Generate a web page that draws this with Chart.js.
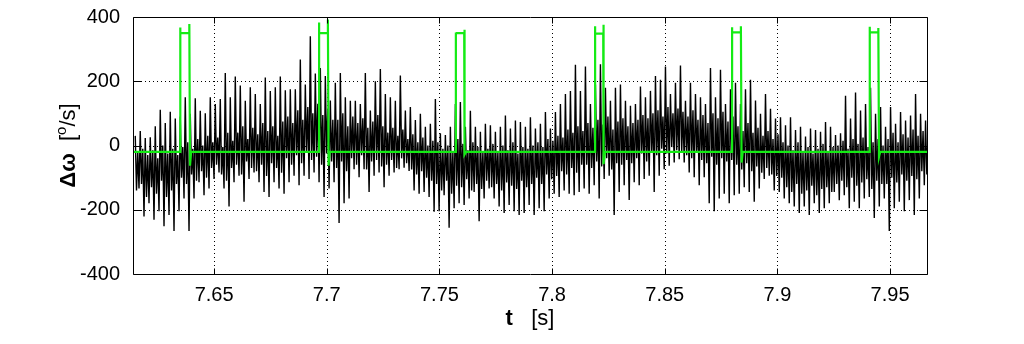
<!DOCTYPE html>
<html>
<head>
<meta charset="utf-8">
<script src="https://cdn.jsdelivr.net/npm/chart.js@4.4.1/dist/chart.umd.min.js"></script>
<style>
  html, body { margin: 0; padding: 0; background: #fff; }
</style>
</head>
<body>
<canvas id="chart" width="1024" height="344"></canvas>
<script>
// axis limits and ticks
const xMin = 7.614, xMax = 7.9664;
const xTicks = [7.65, 7.7, 7.75, 7.8, 7.85, 7.9, 7.95];
const yTicks = [-400, -200, 0, 200, 400];

// black trace, sampled every dt from t0. Each 5 px slot of the picture gives
// four readings in order: upper spike tip, lower and upper edge of the dense core, lower spike tip
const t0 = 7.615, dt = 0.000555;
const peaks = [
  30, 45, 23, 26, 60, 111, 70, 105, 84, 90,
  150, 99, 147, 108, 100, 150, 129, 145, 226, 150,
  215, 187, 139, 181, 160, 129, 212, 170, 181, 215,
  172, 175, 175, 268, 190, 340, 224, 241, 216, 140,
  195, 226, 150, 139, 139, 129, 226, 109, 200, 238,
  160, 150, 139, 218, 109, 120, 79, 99, 58, 68,
  145, 38, 33, 58, 129, 135, 58, 108, 58, 43,
  68, 63, 43, 58, 93, 53, 78, 73, 58, 88,
  53, 68, 104, 53, 104, 129, 160, 170, 251, 170,
  246, 129, 190, 253, 180, 139, 180, 190, 139, 124,
  129, 184, 150, 170, 216, 205, 246, 160, 195, 249,
  139, 195, 160, 150, 129, 241, 150, 236, 129, 175,
  195, 129, 175, 205, 140, 99, 160, 114, 84, 88,
  63, 88, 48, 58, 28, 53, 48, 43, 73, 58,
  33, 38, 155, 84, 165, 109, 129, 180, 99, 120,
  58, 120, 68, 104, 78, 93, 160, 99, 78
];
const coreLow = [
  -140, -120, -160, -130, -150, -110, -160, -140, -120, -100,
  -120, -90, -110, -80, -100, -70, -60, -90, -110, -70,
  -60, -90, -50, -70, -80, -60, -95, -55, -70, -85,
  -40, -60, -30, -55, -20, -45, -35, -60, -25, -50,
  -70, -50, -80, -40, -60, -30, -75, -50, -45, -65,
  -60, -45, -70, -40, -55, -75, -90, -80, -100, -110,
  -120, -140, -110, -150, -125, -130, -105, -140, -120, -135,
  -110, -130, -120, -140, -115, -125, -135, -110, -130, -120,
  -100, -120, -90, -105, -95, -80, -90, -70, -85, -60,
  -60, -70, -50, -65, -40, -75, -55, -60, -45, -55,
  -40, -25, -50, -20, -30, -10, -25, -5, -15, -20,
  -30, -40, -20, -45, -55, -35, -60, -40, -50, -45,
  -60, -75, -55, -80, -65, -85, -70, -90, -95, -100,
  -130, -145, -120, -150, -140, -125, -155, -135, -130, -145,
  -120, -110, -130, -100, -125, -115, -105, -135, -110, -120,
  -120, -100, -115, -90, -110, -95, -105, -80, -90
];
const coreHigh = [
  -20, -10, -30, -15, -40, 0, -25, -10, -30, -5,
  10, -10, 20, 0, 30, 10, 25, -5, 40, 15,
  40, 60, 20, 55, 35, 70, 45, 60, 30, 75,
  90, 70, 110, 80, 120, 100, 130, 95, 115, 80,
  80, 100, 60, 90, 70, 85, 55, 75, 95, 60,
  40, 55, 30, 50, 20, 35, 10, 25, 0, 15,
  10, -10, 0, -20, 20, 5, -15, 10, -5, -20,
  -10, 5, -20, 0, -15, 10, -25, -5, -10, 0,
  10, -5, 20, 15, 30, 25, 50, 40, 60, 45,
  70, 55, 80, 65, 90, 50, 75, 85, 60, 70,
  80, 95, 85, 100, 110, 90, 120, 100, 115, 105,
  90, 110, 80, 95, 70, 100, 85, 105, 75, 90,
  60, 45, 70, 40, 55, 30, 45, 20, 35, 10,
  0, -15, 10, -20, -5, -25, -10, 5, -20, -5,
  0, 15, -10, 20, 5, 25, -5, 10, 20, 0,
  20, 40, 10, 35, 25, 50, 30, 45, 35
];
const troughs = [
  -134, -221, -180, -231, -205, -251, -216, -266, -205, -165,
  -266, -165, -114, -155, -134, -104, -84, -134, -190, -114,
  -94, -175, -104, -84, -114, -145, -160, -114, -134, -150,
  -114, -94, -124, -94, -104, -84, -114, -160, -134, -114,
  -241, -180, -165, -74, -99, -74, -145, -94, -84, -130,
  -94, -84, -74, -69, -79, -140, -150, -145, -160, -206,
  -205, -155, -256, -195, -180, -185, -165, -145, -236, -165,
  -134, -165, -190, -210, -185, -205, -216, -210, -185, -216,
  -195, -205, -165, -150, -160, -140, -150, -155, -145, -134,
  -150, -124, -165, -104, -94, -216, -145, -124, -170, -114,
  -124, -104, -94, -145, -94, -74, -63, -53, -43, -53,
  -84, -99, -124, -99, -180, -205, -165, -150, -180, -155,
  -150, -130, -145, -175, -134, -104, -94, -140, -145, -165,
  -180, -190, -210, -190, -216, -180, -210, -195, -180, -145,
  -170, -155, -195, -175, -195, -165, -160, -226, -190, -165,
  -266, -195, -175, -205, -170, -216, -165, -124, -110
];

// green trace: baseline with six rectangular pulses
const baseline = -20;
const pulseStart = [7.635, 7.6966, 7.7573, 7.8191, 7.8799, 7.941];
const pulseEnd   = [7.639, 7.7005, 7.761, 7.8227, 7.8838, 7.9448];
const riseTop    = [367, 383, 352, 371, 368, 370];
const plateau    = [350, 350, 350, 348, 352, 352];
const fallTop    = [378, 392, 360, 376, 371, 366];
const undershoot = [-63, -63, -28, -58, -53, -35];

const blackPts = [];
peaks.forEach((p, i) => {
  [p, coreLow[i], coreHigh[i], troughs[i]].forEach((v, k) => {
    blackPts.push({ x: t0 + (4 * i + k) * dt, y: v });
  });
});

const greenPts = [{ x: xMin, y: baseline }];
pulseStart.forEach((ts, i) => {
  const te = pulseEnd[i];
  greenPts.push({ x: ts, y: baseline });
  greenPts.push({ x: ts, y: riseTop[i] });
  greenPts.push({ x: ts, y: plateau[i] });
  greenPts.push({ x: te, y: plateau[i] });
  greenPts.push({ x: te, y: fallTop[i] });
  greenPts.push({ x: te + 0.0003, y: undershoot[i] });
  greenPts.push({ x: te + 0.0008, y: baseline });
});
greenPts.push({ x: xMax, y: baseline });

const FONT = '"Liberation Sans", Arial, sans-serif';

// MATLAB style box, dotted grid and inward ticks, plus axis titles
const frame = {
  id: 'frame',
  beforeDatasetsDraw(chart) {
    const { ctx, chartArea: a, scales: { x, y } } = chart;
    ctx.save();
    ctx.strokeStyle = '#000';
    ctx.lineWidth = 1;
    ctx.setLineDash([1, 3]);
    ctx.beginPath();
    xTicks.forEach(v => {
      const px = Math.round(x.getPixelForValue(v)) + 0.5;
      ctx.moveTo(px, a.top); ctx.lineTo(px, a.bottom);
    });
    yTicks.slice(1, -1).forEach(v => {
      const py = Math.round(y.getPixelForValue(v)) + 0.5;
      ctx.moveTo(a.left, py); ctx.lineTo(a.right, py);
    });
    ctx.stroke();
    ctx.restore();
  },
  afterDatasetsDraw(chart) {
    const { ctx, chartArea: a, scales: { x, y } } = chart;
    ctx.save();
    ctx.strokeStyle = '#000';
    ctx.lineWidth = 1;
    ctx.setLineDash([]);
    ctx.beginPath();
    const L = Math.round(a.left) + 0.5, R = Math.round(a.right) + 0.5;
    const T = Math.round(a.top) + 0.5, B = Math.round(a.bottom) + 0.5;
    ctx.rect(L, T, R - L, B - T);
    xTicks.forEach(v => {
      const px = Math.round(x.getPixelForValue(v)) + 0.5;
      ctx.moveTo(px, B); ctx.lineTo(px, B - 6);
      ctx.moveTo(px, T); ctx.lineTo(px, T + 6);
    });
    yTicks.forEach(v => {
      const py = Math.round(y.getPixelForValue(v)) + 0.5;
      ctx.moveTo(L, py); ctx.lineTo(L + 8, py);
      ctx.moveTo(R, py); ctx.lineTo(R - 8, py);
    });
    ctx.stroke();

    // x title: "t   [s]"
    ctx.fillStyle = '#000';
    ctx.textBaseline = 'middle';
    ctx.textAlign = 'left';
    const tx = (a.left + a.right) / 2, ty = 319;
    ctx.font = 'bold 22px ' + FONT;
    const w1 = ctx.measureText('t').width;
    ctx.font = '22px ' + FONT;
    const w2 = ctx.measureText('   [s]').width;
    let sx = tx - (w1 + w2) / 2;
    ctx.font = 'bold 22px ' + FONT;
    ctx.fillText('t', sx, ty);
    ctx.font = '22px ' + FONT;
    ctx.fillText('   [s]', sx + w1, ty);

    // y title: "Δω  [°/s]" rotated
    ctx.translate(69, (a.top + a.bottom) / 2);
    ctx.rotate(-Math.PI / 2);
    const parts = [
      ['Δω', 'bold 22px ', 0],
      ['  [', '22px ', 0],
      ['o', '15px ', -7],
      ['/s]', '22px ', 0]
    ];
    let total = 0;
    parts.forEach(p => { ctx.font = p[1] + FONT; total += ctx.measureText(p[0]).width; });
    let cx = -total / 2;
    parts.forEach(p => {
      ctx.font = p[1] + FONT;
      ctx.fillText(p[0], cx, p[2]);
      cx += ctx.measureText(p[0]).width;
    });
    ctx.restore();
  }
};

new Chart(document.getElementById('chart'), {
  type: 'line',
  data: {
    datasets: [
      { data: greenPts, borderColor: 'rgb(20,235,20)', borderWidth: 2.2, pointRadius: 0, tension: 0 },
      { data: blackPts, borderColor: '#000', borderWidth: 1.4, pointRadius: 0, tension: 0 }
    ]
  },
  options: {
    responsive: false,
    animation: false,
    layout: { padding: { top: 11, right: 97, left: 0, bottom: 0 } },
    plugins: { legend: { display: false }, tooltip: { enabled: false } },
    scales: {
      x: {
        type: 'linear',
        min: xMin,
        max: xMax,
        afterBuildTicks: s => { s.ticks = xTicks.map(v => ({ value: v })); },
        afterFit: s => { s.height = 70; },
        grid: { display: false },
        border: { display: false },
        ticks: {
          color: '#000',
          font: { family: FONT, size: 20 },
          padding: 1,
          maxRotation: 0,
          autoSkip: false,
          callback: v => String(Number(v.toFixed(2)))
        }
      },
      y: {
        min: -400,
        max: 400,
        afterBuildTicks: s => { s.ticks = yTicks.map(v => ({ value: v })); },
        afterFit: s => { s.width = 133; },
        grid: { display: false },
        border: { display: false },
        ticks: {
          color: '#000',
          font: { family: FONT, size: 20 },
          padding: 5,
          autoSkip: false
        }
      }
    }
  },
  plugins: [frame]
});
</script>
</body>
</html>
